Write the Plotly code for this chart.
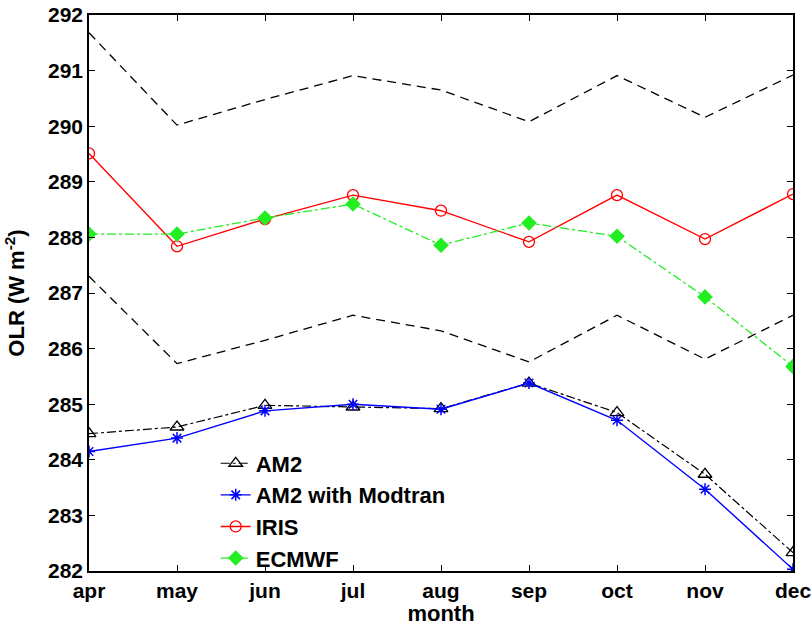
import plotly.graph_objects as go

months = ["apr", "may", "jun", "jul", "aug", "sep", "oct", "nov", "dec"]
upper_bound = [291.68, 290.02, 290.48, 290.91, 290.65, 290.08, 290.91, 290.16, 290.92]
lower_bound = [287.30, 285.73, 286.15, 286.60, 286.32, 285.76, 286.60, 285.81, 286.60]
am2 = [284.47, 284.59, 284.98, 284.95, 284.92, 285.38, 284.85, 283.74, 282.33]
am2_modtran = [284.15, 284.39, 284.88, 285.00, 284.91, 285.38, 284.71, 283.47, 282.03]
iris = [289.51, 287.84, 288.33, 288.76, 288.48, 287.92, 288.76, 287.97, 288.78]
ecmwf = [288.06, 288.06, 288.35, 288.60, 287.86, 288.26, 288.02, 286.93, 285.68]

x = list(range(len(months)))
FONT = "Liberation Sans"
GREEN = "#22ee22"
FS = 21
FT = 22

fig = go.Figure()
fig.add_trace(go.Scatter(x=x, y=upper_bound, mode="lines", showlegend=False,
                         line=dict(color="black", width=1.3, dash="9px,6px")))
fig.add_trace(go.Scatter(x=x, y=lower_bound, mode="lines", showlegend=False,
                         line=dict(color="black", width=1.3, dash="9px,6px")))
fig.add_trace(go.Scatter(x=x, y=am2, mode="lines+markers", name="AM2",
                         line=dict(color="black", width=1.2, dash="dashdot"),
                         marker=dict(symbol="triangle-up-open", size=12, color="black",
                                     line=dict(width=1.3))))
fig.add_trace(go.Scatter(x=x, y=am2_modtran, mode="lines+markers", name="AM2 with Modtran",
                         line=dict(color="blue", width=1.4),
                         marker=dict(symbol="asterisk-open", size=10, color="blue",
                                     line=dict(width=1.5, color="blue"))))
fig.add_trace(go.Scatter(x=x, y=iris, mode="lines+markers", name="IRIS",
                         line=dict(color="red", width=1.4),
                         marker=dict(symbol="circle-open", size=11, color="red",
                                     line=dict(width=1.3))))
fig.add_trace(go.Scatter(x=x, y=ecmwf, mode="lines+markers", name="ECMWF",
                         line=dict(color=GREEN, width=1.3, dash="dashdot"),
                         marker=dict(symbol="diamond", size=12, color=GREEN)))

axis_common = dict(showline=True, linecolor="black", linewidth=1.5, mirror="ticks",
                   ticks="inside", ticklen=6, tickcolor="black", tickwidth=1,
                   showgrid=False, zeroline=False, automargin=False,
                   ticklabeloverflow="allow",
                   tickfont=dict(family=FONT, size=FS, color="black", weight="bold"))

fig.update_xaxes(range=[0, 8], tickvals=x, ticktext=months,
                 title=dict(text="month", standoff=4,
                            font=dict(family=FONT, size=FT, color="black", weight="bold")),
                 **axis_common)
fig.update_yaxes(range=[282, 292], tickvals=list(range(282, 293)),
                 title=dict(text="OLR (W m<sup>-2</sup>)", standoff=17,
                            font=dict(family=FONT, size=FT, color="black", weight="bold")),
                 **axis_common)

fig.update_layout(
    width=812, height=626,
    margin=dict(l=89, r=19, t=15, b=55),
    plot_bgcolor="white", paper_bgcolor="white",
    legend=dict(x=0.18, y=0.108, xanchor="left", yanchor="middle",
                bgcolor="rgba(0,0,0,0)", tracegroupgap=0,
                font=dict(family=FONT, size=FT, color="black", weight="bold")),
)

fig.write_html("out.html", config={"displayModeBar": False},
               post_script="document.body.style.margin='0';document.body.style.overflow='hidden';")
